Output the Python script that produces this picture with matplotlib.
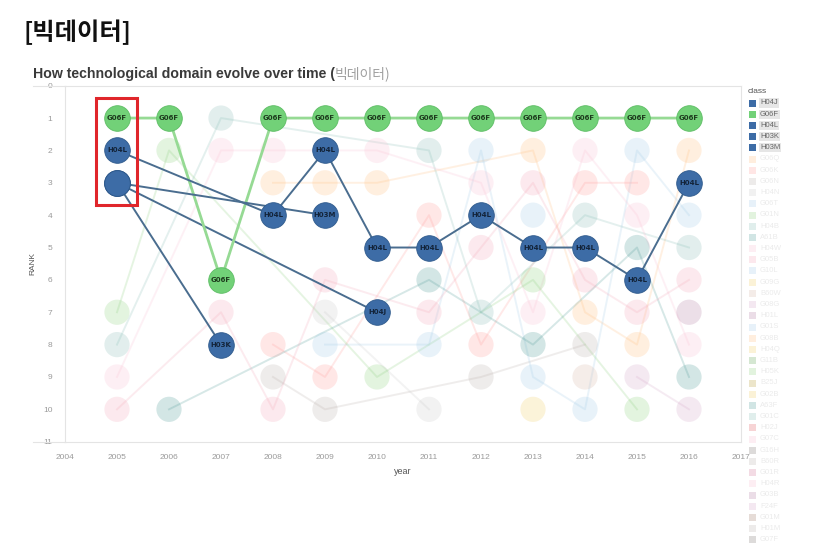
import numpy as np
import matplotlib.pyplot as plt
from matplotlib.patches import Rectangle
from matplotlib.lines import Line2D

plt.rcParams['font.family'] = ['Liberation Sans', 'Noto Sans CJK KR', 'DejaVu Sans']

nan = np.nan
years = list(range(2005, 2017))

# highlighted classes (rank per year, nan = not in top 10)
hl_names = ['H04J', 'G06F', 'H04L', 'H03K', 'H03M']
hl_colors = ['#3d6ca6', '#72d178', '#3d6ca6', '#3d6ca6', '#3d6ca6']
hl_line_colors = ['#4a6d8f', '#96da94', '#4a6d8f', '#4a6d8f', '#4a6d8f']
h04j = [3, nan, nan, nan, nan, 7, nan, nan, nan, nan, nan, nan]
g06f = [1, 1, 6, 1, 1, 1, 1, 1, 1, 1, 1, 1]
h04l = [2, nan, nan, 4, 2, 5, 5, 4, 5, 5, 6, 3]
h03k = [3, nan, 8, nan, nan, nan, nan, nan, nan, nan, nan, nan]
h03m = [3, nan, nan, nan, 4, nan, nan, nan, nan, nan, nan, nan]
hl_ranks = [h04j, g06f, h04l, h03k, h03m]

# other (faded) classes
bg_names = ['G06Q', 'G06K', 'G06N', 'H04N', 'G06T', 'G01N', 'H04B', 'A61B',
            'H04W', 'G05B', 'G10L', 'G09G', 'B60W', 'G08G', 'H01L']
bg_colors = ['#FFBE7D', '#FF9D9A', '#BAB0AC', '#C9C9C9', '#A0CBE8', '#8CD17D',
             '#86BCB6', '#499894', '#FABFD2', '#F4A6B8', '#A0CBE8', '#F1CE63',
             '#D7B5A6', '#D4A6C8', '#B07AA1']
bg_ranks = [
    [nan, nan, nan, 3, 3, 3, nan, nan, 2, 7, 8, 2],
    [nan, nan, nan, 8, 9, nan, 4, 8, nan, 3, 3, nan],
    [nan, nan, nan, 9, 10, nan, nan, 9, nan, 8, nan, nan],
    [nan, nan, nan, nan, 7, nan, 10, nan, nan, nan, nan, nan],
    [nan, nan, nan, nan, 8, nan, 8, 2, 9, 10, 2, 4],
    [7, 2, nan, nan, nan, 9, nan, nan, 6, nan, 10, nan],
    [8, nan, 1, nan, nan, nan, 2, 7, nan, 4, nan, 5],
    [nan, 10, nan, nan, nan, nan, 6, nan, 8, nan, 5, 9],
    [9, nan, 2, 2, nan, 2, nan, 3, 7, 2, 4, 8],
    [10, nan, 7, 10, 6, nan, 7, 5, 3, 6, 7, 6],
    [nan, nan, nan, nan, nan, nan, nan, nan, 4, nan, nan, nan],
    [nan, nan, nan, nan, nan, nan, nan, nan, 10, nan, nan, nan],
    [nan, nan, nan, nan, nan, nan, nan, nan, nan, 9, nan, nan],
    [nan, nan, nan, nan, nan, nan, nan, nan, nan, nan, 9, 10],
    [nan, nan, nan, nan, nan, nan, nan, nan, nan, nan, nan, 7],
]

# classes only listed in the legend
extra_names = ['G01S', 'G08B', 'H04Q', 'G11B', 'H05K', 'B25J', 'G02B', 'A63F',
               'G01C', 'H02J', 'G07C', 'G16H', 'B60R', 'G01R', 'H04R', 'G03B',
               'F24F', 'G01M', 'H01M', 'G07F']
extra_colors = ['#A0CBE8', '#FFBE7D', '#F1CE63', '#59A14F', '#8CD17D', '#B6992D',
                '#F1CE63', '#499894', '#86BCB6', '#E15759', '#FABFD2', '#79706E',
                '#BAB0AC', '#D37295', '#FABFD2', '#B07AA1', '#D4A6C8', '#9D7660',
                '#BAB0AC', '#79706E']

fig = plt.figure(figsize=(8.18, 5.5), dpi=100)
ax = fig.add_axes([65 / 818, 1 - 441.7 / 550, 676 / 818, 356 / 550])

# faded lines and nodes
for col, rk in zip(bg_colors, bg_ranks):
    x = [y for y, r in zip(years, rk) if not np.isnan(r)]
    r = [v for v in rk if not np.isnan(v)]
    ax.plot(x, r, color=col, alpha=0.22, lw=1.4, zorder=1)
    ax.scatter(x, r, s=330, color=col, alpha=0.24, edgecolors='none', zorder=2)

# highlighted lines
for lc, rk, nm in zip(hl_line_colors, hl_ranks, hl_names):
    x = [y for y, r in zip(years, rk) if not np.isnan(r)]
    r = [v for v in rk if not np.isnan(v)]
    ax.plot(x, r, color=lc, lw=2.0 if nm == 'G06F' else 1.4, zorder=3)

# highlighted nodes + labels (labels hidden where nodes overlap)
pts = {}
for rk in hl_ranks:
    for y, r in zip(years, rk):
        if not np.isnan(r):
            pts[(y, r)] = pts.get((y, r), 0) + 1
for col, rk, nm in zip(hl_colors, hl_ranks, hl_names):
    x = [y for y, r in zip(years, rk) if not np.isnan(r)]
    r = [v for v in rk if not np.isnan(v)]
    edge = '#5dbd64' if nm == 'G06F' else '#2f5a8c'
    ax.scatter(x, r, s=340, color=col, edgecolors=edge, linewidths=0.6, zorder=4)
    for xi, ri in zip(x, r):
        if pts[(xi, ri)] == 1:
            tc = '#1d3a1d' if nm == 'G06F' else '#13243a'
            ax.text(xi, ri, nm, ha='center', va='center', fontsize=5,
                    fontweight='bold', color=tc, zorder=5, family='DejaVu Sans')

ax.set_xlim(2004, 2017)
ax.set_ylim(11, 0)
ax.set_xticks(range(2004, 2018))
ax.set_yticks(range(0, 12))
ax.tick_params(length=0, labelsize=6, labelcolor='#9a9a9a', pad=9)
for s in ax.spines.values():
    s.set_color('#e4e4e4')
    s.set_linewidth(0.8)
ax.set_xlabel('year', fontsize=6.5, color='#555555', labelpad=4)
ax.xaxis.set_label_coords(0.5, -0.07)
ax.set_ylabel('RANK', fontsize=6, color='#555555')
ax.yaxis.set_label_coords(-0.042, 0.5)

# extended frame lines on the left
fig.add_artist(Line2D([33 / 818, 65 / 818], [1 - 441.7 / 550] * 2, color='#e4e4e4', lw=0.8))
fig.add_artist(Line2D([33 / 818, 65 / 818], [1 - 85.7 / 550] * 2, color='#e4e4e4', lw=0.8))

# red highlight box
fig.add_artist(Rectangle((96 / 818, 1 - 205 / 550), 41 / 818, 107 / 550,
                         fill=False, edgecolor='#e0262b', lw=2.2))

# titles
fig.text(24 / 818, 1 - 32 / 550, '[빅데이터]', fontsize=17.5, fontweight='black',
         va='center', ha='left', color='#111111', family='Noto Sans CJK KR')
t1 = fig.text(33 / 818, 1 - 74 / 550, 'How technological domain evolve over time (',
              fontsize=10.2, fontweight='bold', va='center', ha='left', color='#3a3a3a')
ax.annotate('빅데이터)', xy=(1, 0), xycoords=t1, va='bottom', ha='left',
            fontsize=10, color='#a0a0a0', family='Noto Sans CJK KR')

# legend
fig.text(748 / 818, 1 - 91 / 550, 'class', fontsize=6, color='#555555', va='center')
leg_names = hl_names + bg_names + extra_names
leg_colors = hl_colors + bg_colors + extra_colors
for i, (nm, col) in enumerate(zip(leg_names, leg_colors)):
    yc = 103 + i * 11.2
    active = i < len(hl_names)
    fig.add_artist(Rectangle((749 / 818, 1 - (yc + 3.5) / 550), 7 / 818, 7 / 550,
                             color=col, alpha=1 if active else 0.25, lw=0))
    if active:
        fig.text(760 / 818, 1 - yc / 550, nm, fontsize=5.5, color='#666666', va='center',
                 bbox=dict(facecolor='#e6e6e6', edgecolor='none', pad=0.8))
    else:
        fig.text(760 / 818, 1 - yc / 550, nm, fontsize=5.5, color='#ebebeb', va='center')

plt.savefig('out.png', dpi=100)
